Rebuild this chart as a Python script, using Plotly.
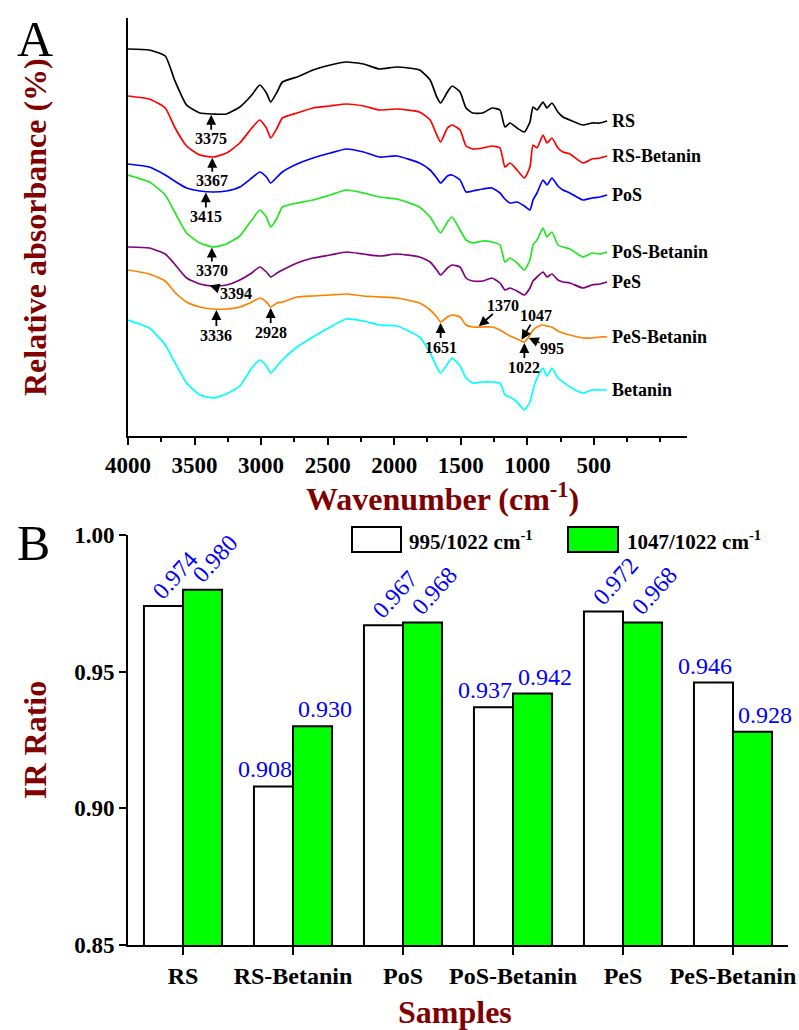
import numpy as np
import plotly.graph_objects as go

# ---------------- Panel A data (FTIR spectra, arbitrary relative absorbance units) ----------------
wavenumber = [4000, 3840, 3720, 3650, 3560, 3460, 3360, 3260, 3160, 3070,
              3010, 2960, 2928, 2880, 2840, 2730, 2610, 2480, 2360, 2230,
              2110, 1980, 1810, 1730, 1680, 1651, 1600, 1565, 1505, 1460,
              1410, 1335, 1265, 1205, 1168, 1130, 1077, 1022, 980, 957,
              927, 882, 852, 815, 770, 732, 680, 582, 514, 455,
              400]

rs = [359, 358, 352, 328, 303, 295, 294, 294, 301, 313,
      323, 315, 306, 316, 326, 331, 338, 343, 346, 344,
      339, 341, 338, 328, 311, 305, 316, 322, 316, 300,
      295, 295, 300, 298, 281, 285, 280, 276, 286, 301,
      298, 306, 300, 305, 296, 291, 288, 283, 285, 285,
      287]
rs_betanin = [312, 309, 300, 281, 262, 253, 251, 255, 265, 280,
              288, 280, 270, 280, 290, 295, 300, 302, 304, 302,
              298, 299, 296, 288, 273, 266, 280, 283, 278, 262,
              259, 260, 262, 260, 241, 245, 238, 230, 241, 263,
              260, 273, 265, 270, 260, 256, 254, 245, 249, 250,
              252]
pos = [244, 241, 233, 227, 220, 217, 216, 217, 221, 230,
       236, 231, 225, 231, 236, 244, 250, 255, 259, 256,
       251, 252, 245, 238, 230, 225, 232, 233, 228, 216,
       217, 219, 220, 215, 209, 205, 206, 202, 198, 208,
       215, 228, 223, 230, 222, 218, 215, 208, 210, 211,
       213]
pos_betanin = [233, 226, 213, 196, 175, 165, 161, 164, 172, 188,
               198, 191, 181, 190, 201, 205, 208, 213, 218, 215,
               211, 209, 201, 191, 180, 175, 186, 191, 178, 168,
               165, 167, 166, 163, 146, 150, 145, 138, 148, 163,
               168, 180, 171, 176, 163, 161, 159, 151, 155, 154,
               156]
pes = [161, 160, 154, 144, 130, 124, 122, 123, 128, 135,
       141, 136, 131, 135, 138, 145, 150, 153, 156, 154,
       152, 154, 151, 146, 138, 133, 140, 143, 141, 130,
       127, 127, 130, 125, 118, 120, 117, 113, 120, 127,
       131, 136, 131, 134, 128, 126, 125, 120, 123, 124,
       126]
pes_betanin = [138, 134, 127, 116, 106, 101, 99, 99, 101, 106,
               110, 106, 101, 105, 106, 111, 112, 113, 114, 112,
               111, 110, 105, 98, 91, 86, 91, 93, 91, 83,
               81, 81, 81, 78, 75, 72, 69, 66, 73, 78,
               81, 83, 82, 81, 77, 75, 73, 70, 70, 71,
               71]
betanin = [88, 80, 63, 46, 25, 13, 10, 14, 22, 40,
           48, 42, 35, 42, 48, 61, 71, 81, 89, 87,
           83, 82, 71, 55, 41, 35, 44, 50, 42, 30,
           25, 26, 26, 25, 13, 11, 6, -2, 6, 18,
           30, 40, 32, 40, 30, 26, 21, 15, 18, 18,
           18]

spectra_names = ["RS", "RS-Betanin", "PoS", "PoS-Betanin", "PeS", "PeS-Betanin", "Betanin"]
spectra_values = [rs, rs_betanin, pos, pos_betanin, pes, pes_betanin, betanin]
spectra_colors = ["#000000", "#FF0000", "#0000FF", "#22E622", "#800080", "#FF8000", "#00FFFF"]

x_tick_values = [4000, 3500, 3000, 2500, 2000, 1500, 1000, 500]
x_tick_labels = ["4000", "3500", "3000", "2500", "2000", "1500", "1000", "500"]

# peak markers: wavenumber and the spectrum they point at
peak_wn = [3375, 3367, 3415, 3370, 3394, 3336, 2928, 1651, 1370, 1047, 1022, 995]
peak_curve = ["RS", "RS-Betanin", "PoS", "PoS-Betanin", "PeS", "PeS-Betanin",
              "PeS-Betanin", "PeS-Betanin", "PeS-Betanin", "PeS-Betanin",
              "PeS-Betanin", "PeS-Betanin"]
# style: label-centre offset from the arrow tip (px, +down)
peak_style = [(0, 25), (0, 24), (0, 25), (0, 24),
              (27, 8), (0, 26), (0, 25), (0, 25),
              (25, -22), (15, -25), (0, 25), (24, 11)]

# ---------------- Panel B data ----------------
categories = ["RS", "RS-Betanin", "PoS", "PoS-Betanin", "PeS", "PeS-Betanin"]
ratio_995_1022 = [0.974, 0.908, 0.967, 0.937, 0.972, 0.946]
ratio_1047_1022 = [0.980, 0.930, 0.968, 0.942, 0.968, 0.928]
b_y_ticks = [0.85, 0.90, 0.95, 1.00]
label_rotated = [True, False, True, False, True, False]

SERIF = "Liberation Serif"
DARKRED = "#800000"
W, H = 799, 1030


def px_x(p):
    return p / W


def px_y(p):
    return 1 - p / H


fig = go.Figure()

for name, vals, col in zip(spectra_names, spectra_values, spectra_colors):
    fig.add_trace(go.Scatter(x=wavenumber, y=vals, mode="lines", name=name,
                             line=dict(color=col, width=1.7, shape="spline", smoothing=0.5),
                             xaxis="x", yaxis="y", showlegend=False, hoverinfo="skip"))
    fig.add_annotation(x=wavenumber[-1], y=vals[-1], xref="x", yref="y", text=name,
                       showarrow=False, xanchor="left", yanchor="middle", xshift=3,
                       font=dict(family=SERIF, size=18, color="black", weight="bold"))

wn_asc = wavenumber[::-1]
curve_map = dict(zip(spectra_names, spectra_values))
for wn, cname, (lx, ly) in zip(peak_wn, peak_curve, peak_style):
    yv = float(np.interp(wn, wn_asc, curve_map[cname][::-1]))
    fig.add_annotation(x=wn, y=yv, xref="x", yref="y", text=str(wn), showarrow=True,
                       ax=lx, ay=ly, arrowhead=2, arrowsize=1.1, arrowwidth=1.8,
                       arrowcolor="black", standoff=1, borderpad=0,
                       font=dict(family=SERIF, size=16, color="black", weight="bold"))

# ---------------- Panel B bars ----------------
bargap = 0.29
fig.add_trace(go.Bar(x=categories, y=ratio_995_1022, name="995/1022 cm<sup>-1</sup>",
                     marker=dict(color="white", line=dict(color="black", width=2)),
                     xaxis="x2", yaxis="y2", showlegend=False))
fig.add_trace(go.Bar(x=categories, y=ratio_1047_1022, name="1047/1022 cm<sup>-1</sup>",
                     marker=dict(color="#00FF00", line=dict(color="black", width=2)),
                     xaxis="x2", yaxis="y2", showlegend=False))

offset = (1 - bargap) / 4
for i in range(len(categories)):
    for vals, side in ((ratio_995_1022, -1), (ratio_1047_1022, 1)):
        v = vals[i]
        if label_rotated[i]:
            ang, xs, ys = -48, 12, 31
        else:
            ang, xs, ys = 0, (-8 if side < 0 else 12), 17
        fig.add_annotation(x=i + side * offset, y=v, xref="x2", yref="y2",
                           text=f"{v:.3f}", showarrow=False, textangle=ang,
                           xshift=xs, yshift=ys, xanchor="center", yanchor="middle",
                           font=dict(family=SERIF, size=24, color="#0000FF"))

# legend (drawn)
fig.add_shape(type="rect", xref="paper", yref="paper",
              x0=px_x(352), x1=px_x(401), y0=px_y(552), y1=px_y(527),
              fillcolor="white", line=dict(color="black", width=2))
fig.add_shape(type="rect", xref="paper", yref="paper",
              x0=px_x(568), x1=px_x(618), y0=px_y(552), y1=px_y(527),
              fillcolor="#00FF00", line=dict(color="black", width=2))
fig.add_annotation(x=px_x(407), y=px_y(540), xref="paper", yref="paper",
                   text="995/1022 cm<sup>-1</sup>", showarrow=False, xanchor="left", yanchor="middle",
                   font=dict(family=SERIF, size=21, color="black", weight="bold"))
fig.add_annotation(x=px_x(625), y=px_y(540), xref="paper", yref="paper",
                   text="1047/1022 cm<sup>-1</sup>", showarrow=False, xanchor="left", yanchor="middle",
                   font=dict(family=SERIF, size=21, color="black", weight="bold"))

# titles and panel letters
title_font = dict(family=SERIF, size=32, color=DARKRED, weight="bold")
fig.add_annotation(x=px_x(35), y=px_y(227), xref="paper", yref="paper",
                   text="Relative absorbance (%)", textangle=-90, showarrow=False,
                   xanchor="center", yanchor="middle", font=title_font)
fig.add_annotation(x=px_x(442), y=px_y(497), xref="paper", yref="paper",
                   text="Wavenumber (cm<sup>-1</sup>)", showarrow=False,
                   xanchor="center", yanchor="middle", font=title_font)
fig.add_annotation(x=px_x(35), y=px_y(740), xref="paper", yref="paper",
                   text="IR Ratio", textangle=-90, showarrow=False,
                   xanchor="center", yanchor="middle", font=title_font)
fig.add_annotation(x=px_x(455), y=px_y(1012), xref="paper", yref="paper",
                   text="Samples", showarrow=False,
                   xanchor="center", yanchor="middle", font=title_font)
fig.add_annotation(x=px_x(35), y=px_y(39), xref="paper", yref="paper", text="A",
                   showarrow=False, xanchor="center", yanchor="middle",
                   font=dict(family=SERIF, size=50, color="black"))
fig.add_annotation(x=px_x(33), y=px_y(543), xref="paper", yref="paper", text="B",
                   showarrow=False, xanchor="center", yanchor="middle",
                   font=dict(family=SERIF, size=50, color="black"))

tick_font = dict(family=SERIF, size=23, color="black", weight="bold")

fig.update_layout(
    width=W, height=H,
    margin=dict(l=0, r=0, t=0, b=0, autoexpand=False),
    paper_bgcolor="white", plot_bgcolor="white",
    barmode="group", bargap=bargap, bargroupgap=0,
    xaxis=dict(domain=[px_x(128), px_x(687)], range=[4000, -200], anchor="y",
               automargin=False,
               tickmode="array", tickvals=x_tick_values, ticktext=x_tick_labels,
               ticks="outside", ticklen=7, tickwidth=1.5, tickcolor="black",
               minor=dict(tickmode="linear", tick0=0, dtick=250, ticks="outside",
                          ticklen=4, tickwidth=1.5, tickcolor="black"),
               showline=True, linecolor="black", linewidth=2,
               showgrid=False, zeroline=False, tickfont=tick_font),
    yaxis=dict(domain=[px_y(436), px_y(18)], range=[-28, 390], anchor="x",
               automargin=False,
               showline=True, linecolor="black", linewidth=2,
               showticklabels=False, ticks="", showgrid=False, zeroline=False),
    xaxis2=dict(domain=[px_x(128), px_x(788)], anchor="y2", type="category",
                range=[-0.5, 5.5], automargin=False,
                ticks="outside", ticklen=8, tickwidth=1.5, tickcolor="black",
                showline=True, linecolor="black", linewidth=2,
                showgrid=False, zeroline=False,
                tickfont=dict(family=SERIF, size=24, color="black", weight="bold")),
    yaxis2=dict(domain=[px_y(945), px_y(535)], range=[0.85, 1.0], anchor="x2",
                automargin=False,
                tickmode="array", tickvals=b_y_ticks, tickformat=".2f",
                ticks="outside", ticklen=7, tickwidth=1.5, tickcolor="black",
                showline=True, linecolor="black", linewidth=2,
                showgrid=False, zeroline=False, tickfont=tick_font),
)

fig.write_html("out.html")
